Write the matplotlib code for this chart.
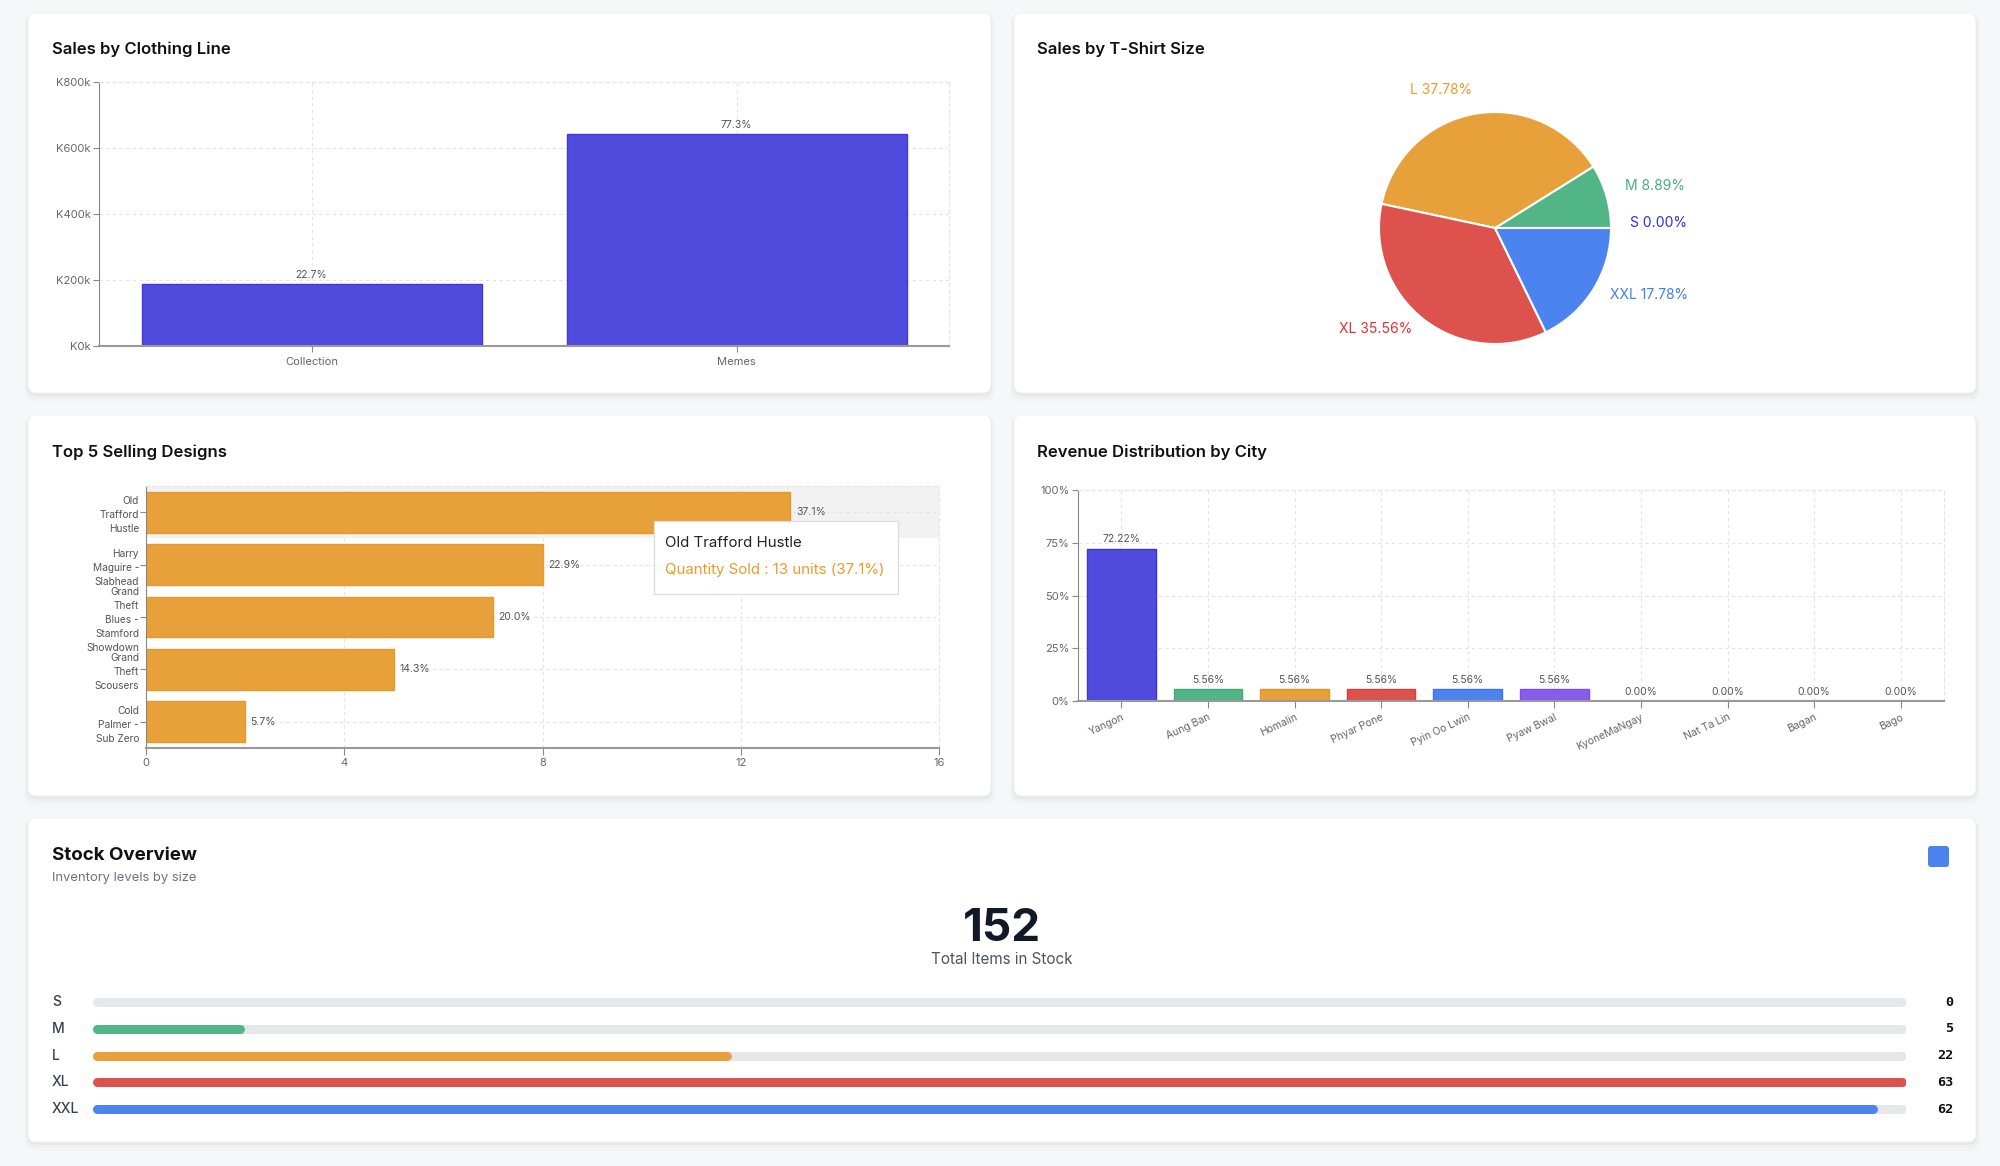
import matplotlib
matplotlib.use('Agg')
import matplotlib.pyplot as plt
import matplotlib.transforms as mtransforms
from matplotlib.patches import FancyBboxPatch
from matplotlib.ticker import FuncFormatter

plt.rcParams['font.family'] = ['Inter', 'DejaVu Sans']

# ---- data ----
line_names = ['Collection', 'Memes']
line_sales = [188000, 641000]

size_names = ['S', 'M', 'L', 'XL', 'XXL']
size_sold = [0, 4, 17, 16, 8]

design_names = ['Old\nTrafford\nHustle', 'Harry\nMaguire -\nSlabhead',
                'Grand\nTheft\nBlues -\nStamford\nShowdown', 'Grand\nTheft\nScousers',
                'Cold\nPalmer -\nSub Zero']
design_qty = [13, 8, 7, 5, 2]
tooltip_title = 'Old Trafford Hustle'

city_names = ['Yangon', 'Aung Ban', 'Homalin', 'Phyar Pone', 'Pyin Oo Lwin',
              'Pyaw Bwal', 'KyoneMaNgay', 'Nat Ta Lin', 'Bagan', 'Bago']
city_orders = [13, 1, 1, 1, 1, 1, 0, 0, 0, 0]

stock_sizes = ['S', 'M', 'L', 'XL', 'XXL']
stock_qty = [0, 5, 22, 63, 62]

# ---- colours ----
INDIGO = '#4f4bdc'
GREEN = '#52b586'
ORANGE = '#e8a03a'
RED = '#dd524c'
BLUE = '#4b84ee'
PURPLE = '#865deb'
GRID = '#e3e3e3'

W, H = 2000, 1166
fig = plt.figure(figsize=(W / 100, H / 100), dpi=100)
fig.patch.set_facecolor('#f6f7f9')

# background layer in pixel units (y down)
bg = fig.add_axes([0, 0, 1, 1])
bg.set_xlim(0, W)
bg.set_ylim(H, 0)
bg.axis('off')


def panel(l, t, r, b):
    for k, a in [(8, 0.012), (5, 0.018), (2, 0.03)]:
        bg.add_patch(FancyBboxPatch((l - k / 2, t + 1), r - l + k, b - t + k,
                                    boxstyle='round,pad=0,rounding_size=10',
                                    fc='black', ec='none', alpha=a))
    bg.add_patch(FancyBboxPatch((l, t), r - l, b - t,
                                boxstyle='round,pad=0,rounding_size=8',
                                fc='white', ec='#eef0f2', lw=0.6))


def axes_px(l, t, r, b, z=1):
    ax = fig.add_axes([l / W, 1 - b / H, (r - l) / W, (b - t) / H])
    ax.set_zorder(z)
    return ax


def style(ax):
    ax.set_facecolor('none')
    for s in ['top', 'right']:
        ax.spines[s].set_linestyle((0, (3, 3)))
        ax.spines[s].set_color(GRID)
        ax.spines[s].set_linewidth(0.8)
    ax.spines['left'].set_color('#888')
    ax.spines['left'].set_linewidth(0.8)
    ax.spines['bottom'].set_color('#999')
    ax.spines['bottom'].set_linewidth(1.5)
    ax.tick_params(colors='#888', labelcolor='#666', labelsize=8, length=4, width=0.8, pad=2)
    ax.grid(True, color=GRID, linestyle=(0, (3, 3)), linewidth=0.8)
    ax.set_axisbelow(True)


panel(28, 13, 991, 393)
panel(1014, 13, 1976, 393)
panel(28, 415, 991, 796)
panel(1014, 415, 1976, 796)
panel(28, 818, 1976, 1142)

title_kw = dict(fontsize=12, weight=600, color='#111111', va='center', ha='left')
bg.text(52, 49, 'Sales by Clothing Line', **title_kw)
bg.text(1037, 49, 'Sales by T-Shirt Size', **title_kw)
bg.text(52, 452, 'Top 5 Selling Designs', **title_kw)
bg.text(1037, 452, 'Revenue Distribution by City', **title_kw)

# ---- Sales by Clothing Line ----
ax1 = axes_px(99, 82, 949, 346)
style(ax1)
bars = ax1.bar(range(len(line_names)), line_sales, width=0.8, color=INDIGO,
               edgecolor='#4338e0', linewidth=1)
tot = sum(line_sales)
ax1.bar_label(bars, labels=[f'{v / tot * 100:.1f}%' for v in line_sales],
              padding=3, fontsize=7.5, color='#555')
ax1.set_xlim(-0.5, len(line_names) - 0.5)
ax1.set_ylim(0, 800000)
ax1.set_yticks([0, 200000, 400000, 600000, 800000])
ax1.yaxis.set_major_formatter(FuncFormatter(lambda v, p: f'K{int(v / 1000)}k'))
ax1.set_xticks(range(len(line_names)))
ax1.set_xticklabels(line_names)
ax1.tick_params(axis='x', pad=4)

# ---- Sales by T-Shirt Size (pie) ----
axp = axes_px(1345, 78, 1645, 378)
axp.set_facecolor('none')
size_total = sum(size_sold)
pie_labels = [f'{n} {v / size_total * 100:.2f}%' for n, v in zip(size_names, size_sold)]
wedges, texts = axp.pie(size_sold, labels=pie_labels,
                        colors=[INDIGO, GREEN, ORANGE, RED, BLUE],
                        startangle=0, counterclock=True, labeldistance=1.164,
                        wedgeprops=dict(edgecolor='white', linewidth=1.5),
                        textprops=dict(fontsize=10))
label_colors = ['#2f2ce6', '#45b07c', '#ee9a2a', '#e0302e', '#3b7ff0']
lift = mtransforms.ScaledTranslation(0, 5 / 100, fig.dpi_scale_trans)
for t, c in zip(texts, label_colors):
    t.set_color(c)
    t.set_transform(t.get_transform() + lift)
axp.set_xlim(-1.293, 1.293)
axp.set_ylim(-1.293, 1.293)
axp.set_aspect('equal')

# ---- Top 5 Selling Designs ----
ax3 = axes_px(146, 486, 939, 748)
style(ax3)
ax3.axhspan(-0.5, 0.5, color='#f2f2f2', zorder=0.1, lw=0)
hb = ax3.barh(range(len(design_names)), design_qty, height=0.78, color=ORANGE,
              edgecolor='#e69a2e', linewidth=1, zorder=2)
dtot = sum(design_qty)
ax3.bar_label(hb, labels=[f'{v / dtot * 100:.1f}%' for v in design_qty],
              padding=4, fontsize=7.5, color='#555')
ax3.set_xlim(0, 16)
ax3.set_ylim(len(design_names) - 0.5, -0.5)
ax3.set_xticks([0, 4, 8, 12, 16])
ax3.set_yticks(range(len(design_names)))
ax3.set_yticklabels(design_names, fontsize=7.3, linespacing=1.5, color='#555')
ax3.tick_params(axis='y', pad=1)
ax3.tick_params(axis='x', length=5)

# tooltip overlay
ov = fig.add_axes([0, 0, 1, 1])
ov.set_zorder(10)
ov.set_xlim(0, W)
ov.set_ylim(H, 0)
ov.axis('off')
ov.add_patch(FancyBboxPatch((654, 521), 244, 73, boxstyle='square,pad=0',
                            fc='white', ec='#dcdcdc', lw=0.9))
ov.text(665, 543, tooltip_title, fontsize=10.8, color='#222', va='center')
ov.text(665, 570, f'Quantity Sold : {design_qty[0]} units ({design_qty[0] / dtot * 100:.1f}%)',
        fontsize=10.8, color='#ee9a2a', va='center')

# ---- Revenue Distribution by City ----
ax4 = axes_px(1078, 490, 1944, 701)
style(ax4)
ctot = sum(city_orders)
city_pct = [v / ctot * 100 for v in city_orders]
city_colors = [INDIGO, GREEN, ORANGE, RED, BLUE, PURPLE, '#cccccc', '#cccccc', '#cccccc', '#cccccc']
city_edges = ['#3b34de', '#45a877', '#e39524', '#d63f3a', '#3f78e6', '#7a4fe6', 'none', 'none', 'none', 'none']
cb = ax4.bar(range(len(city_names)), city_pct, width=0.79, color=city_colors,
             edgecolor=city_edges, linewidth=1)
ax4.bar_label(cb, labels=[f'{p:.2f}%' for p in city_pct], padding=3, fontsize=7.5, color='#555')
ax4.set_xlim(-0.5, len(city_names) - 0.5)
ax4.set_ylim(0, 100)
ax4.set_yticks([0, 25, 50, 75, 100])
ax4.yaxis.set_major_formatter(FuncFormatter(lambda v, p: f'{int(v)}%'))
ax4.set_xticks(range(len(city_names)))
ax4.set_xticklabels(city_names, rotation=25, ha='right', rotation_mode='anchor', fontsize=7.5)
ax4.tick_params(axis='x', length=5, pad=3)

# ---- Stock Overview ----
bg.text(52, 855, 'Stock Overview', fontsize=13.5, weight='bold', color='#111111', va='center')
bg.text(52, 878, 'Inventory levels by size', fontsize=9.4, color='#6b7280', va='center')
bg.text(1002, 929, f'{sum(stock_qty)}', fontsize=33, weight='bold', color='#111827',
        ha='center', va='center')
bg.text(1002, 959, 'Total Items in Stock', fontsize=11, color='#4b5563', ha='center', va='center')
bg.add_patch(FancyBboxPatch((1928, 846), 21, 21, boxstyle='round,pad=0,rounding_size=3',
                            fc=BLUE, ec='none'))

axs = axes_px(92, 988.6, 1906, 1122.6)
axs.axis('off')
smax = max(stock_qty)
bar_px = 9
span_px = 1906 - 92
pad = (bar_px / 2) * smax / (span_px - bar_px)
axs.set_xlim(-pad, smax + pad)
axs.set_ylim(len(stock_sizes) - 0.5, -0.5)
lw_pt = bar_px * 0.72
stock_colors = [INDIGO, GREEN, ORANGE, RED, BLUE]
trans = mtransforms.blended_transform_factory(axs.transAxes, axs.transData)
for i, (name, q, c) in enumerate(zip(stock_sizes, stock_qty, stock_colors)):
    axs.plot([0, smax], [i, i], color='#e5e7eb', lw=lw_pt, solid_capstyle='round')
    if q > 0:
        axs.plot([0, q], [i, i], color=c, lw=lw_pt, solid_capstyle='round')
    axs.text((52 - 92) / span_px, i, name, transform=trans, fontsize=10, weight=500,
             color='#374151', va='center', ha='left')
    axs.text((1953 - 92) / span_px, i, str(q), transform=trans, fontsize=9.7, weight='bold',
             family='DejaVu Sans Mono', color='#111', va='center', ha='right')

fig.savefig('out.png', dpi=100, facecolor=fig.get_facecolor())
